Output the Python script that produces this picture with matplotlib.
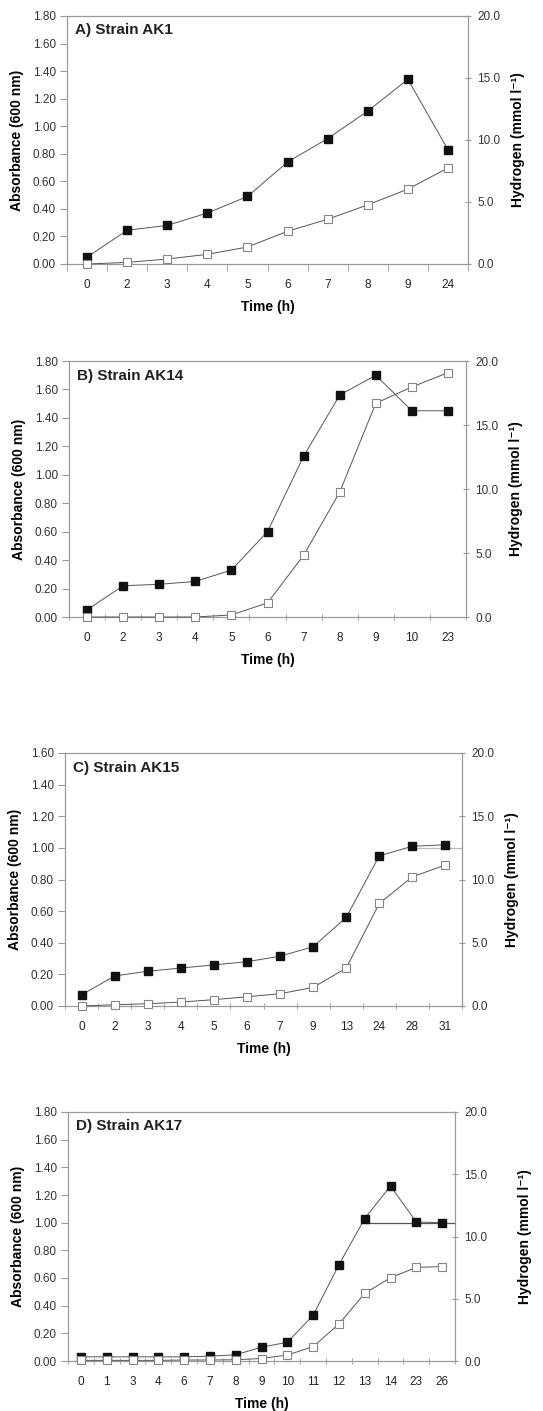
import numpy as np
import matplotlib.pyplot as plt

plt.rcParams['font.family'] = ['Liberation Sans', 'DejaVu Sans']

# A) Strain AK1
a_time = ['0', '2', '3', '4', '5', '6', '7', '8', '9', '24']
a_abs = [0.05, 0.245, 0.28, 0.37, 0.49, 0.74, 0.91, 1.11, 1.34, 0.83]
a_h2 = [0.0, 0.13, 0.40, 0.78, 1.37, 2.64, 3.61, 4.77, 6.04, 7.74]

# B) Strain AK14
b_time = ['0', '2', '3', '4', '5', '6', '7', '8', '9', '10', '23']
b_abs = [0.05, 0.22, 0.23, 0.25, 0.33, 0.60, 1.13, 1.56, 1.70, 1.45, 1.45]
b_h2 = [0.0, 0.0, 0.0, 0.0, 0.16, 1.10, 4.82, 9.75, 16.7, 17.97, 19.09]

# C) Strain AK15
c_time = ['0', '2', '3', '4', '5', '6', '7', '9', '13', '24', '28', '31']
c_abs = [0.07, 0.19, 0.22, 0.24, 0.26, 0.28, 0.315, 0.375, 0.56, 0.95, 1.01, 1.02]
c_h2 = [0.0, 0.1, 0.18, 0.31, 0.50, 0.73, 0.97, 1.47, 2.99, 8.11, 10.21, 11.15]

# D) Strain AK17
d_time = ['0', '1', '3', '4', '6', '7', '8', '9', '10', '11', '12', '13', '14', '23', '26']
d_abs = [0.03, 0.03, 0.03, 0.03, 0.03, 0.035, 0.045, 0.10, 0.135, 0.33, 0.695, 1.03, 1.265, 1.005, 1.0]
d_h2 = [0.05, 0.05, 0.05, 0.05, 0.08, 0.08, 0.1, 0.2, 0.48, 1.15, 2.97, 5.43, 6.69, 7.52, 7.58]

panels = [
    ('A) Strain AK1', a_time, a_abs, a_h2, 1.8, None, 'out'),
    ('B) Strain AK14', b_time, b_abs, b_h2, 1.8, None, 'inout'),
    ('C) Strain AK15', c_time, c_abs, c_h2, 1.6, ('28', 1.0, '#bbbbbb'), 'inout'),
    ('D) Strain AK17', d_time, d_abs, d_h2, 1.8, ('13', 1.0, '#555555'), 'inout'),
]

# axes boxes in pixels: left, right, top, bottom
boxes = [(67, 468, 16, 264), (69, 466, 361, 617), (65, 462, 753, 1006), (68, 455, 1112, 1361)]
right_pad = [8, 8, 8, 22]

W, H = 543, 1411
fig = plt.figure(figsize=(W / 100, H / 100), dpi=100)

spine_col = '#9a9a9a'
line_col = '#555555'

for (title, times, absb, h2, ymax, ref, tdir), (l, r, t, b), rp in zip(panels, boxes, right_pad):
    ax = fig.add_axes([l / W, 1 - b / H, (r - l) / W, (b - t) / H])
    ax2 = ax.twinx()
    x = np.arange(len(times))

    # stray horizontal line seen in the original figure
    if ref is not None:
        start = times.index(ref[0])
        ax.plot([start, len(times) - 0.5], [ref[1], ref[1]], color=ref[2], lw=0.9, zorder=1)

    ax.plot(x, absb, color=line_col, lw=0.7, marker='s', ms=6,
            mfc='#111111', mec='#111111', zorder=3, clip_on=False)
    ax2.plot(x, h2, color=line_col, lw=0.7, marker='s', ms=5.6,
             mfc='white', mec='#858585', mew=0.8, zorder=3, clip_on=False)

    yt = np.arange(0, ymax + 0.01, 0.2)
    ax.set_xlim(-0.5, len(times) - 0.5)
    ax.set_ylim(0, ymax)
    ax2.set_ylim(0, 20)
    ax.set_yticks(yt)
    ax.set_yticklabels([f'{v:.2f}' for v in yt])
    ax2.set_yticks([0, 5, 10, 15, 20])
    ax2.set_yticklabels(['0.0', '5.0', '10.0', '15.0', '20.0'])

    ax.set_xticks(x)
    ax.set_xticklabels(times)
    ax.set_xticks(np.arange(len(times) + 1) - 0.5, minor=True)
    ax.tick_params(axis='x', which='major', length=0, pad=11, labelsize=8.5, colors='#222222')
    ax.tick_params(axis='x', which='minor', length=5, direction=tdir, color=spine_col)
    ax.tick_params(axis='y', length=5, direction='out', color=spine_col, labelsize=8.5,
                   labelcolor='#333333', pad=3)
    ax2.tick_params(axis='y', length=5, direction='inout', color=spine_col, labelsize=8.5,
                    labelcolor='#333333', pad=4)

    for a in (ax, ax2):
        for s in a.spines.values():
            s.set_color(spine_col)
            s.set_linewidth(0.8)

    ax.set_ylabel('Absorbance (600 nm)', fontsize=10, fontweight='bold', labelpad=6)
    ax2.set_ylabel('Hydrogen (mmol l⁻¹)', fontsize=10, fontweight='bold', labelpad=rp)
    ax.set_xlabel('Time (h)', fontsize=10, fontweight='bold', labelpad=6)

    ax.text(0.02, 0.97, title, transform=ax.transAxes, ha='left', va='top',
            fontsize=11, fontweight='bold', color='#222222')

fig.savefig('out.png', dpi=100)
